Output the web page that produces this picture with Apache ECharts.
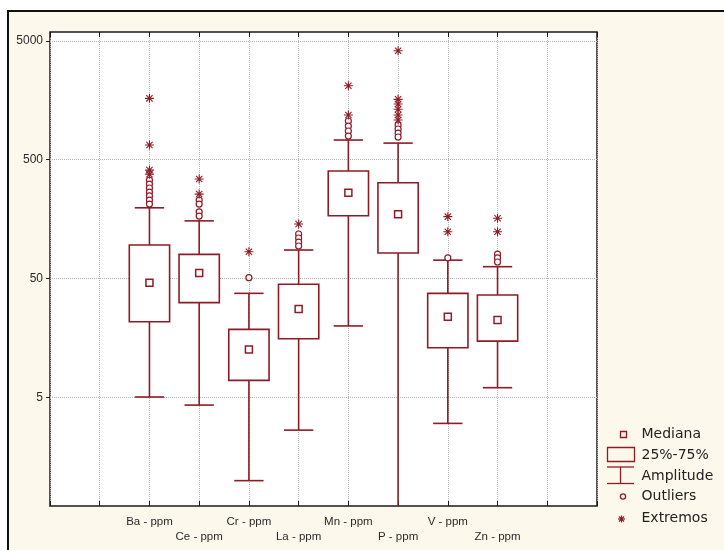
<!DOCTYPE html>
<html>
<head>
<meta charset="utf-8">
<script src="https://cdn.jsdelivr.net/npm/echarts@6/dist/echarts.min.js"></script>
<style>
  html, body { margin: 0; padding: 0; background: #ffffff; }
  #chart { width: 724px; height: 550px; }
</style>
</head>
<body>
<div id="chart"></div>
<script>
// Element concentrations (ppm): whisker range, quartiles and median per element
const elements  = ['Ba - ppm', 'Ce - ppm', 'Cr - ppm', 'La - ppm', 'Mn - ppm', 'P - ppm', 'V - ppm', 'Zn - ppm'];
const minVals    = [5.05, 4.32, 1.0, 2.66, 20.0, 0.4, 3.03, 6.05];
const q1Vals     = [21.7, 31.4, 6.97, 15.6, 169, 82.1, 13.1, 14.9];
const medianVals = [46.2, 55.7, 12.7, 27.7, 264, 174, 23.9, 22.4];
const q3Vals     = [95.9, 80.0, 18.7, 44.8, 402, 320, 37.6, 36.4];
const maxVals    = [197, 153, 37.6, 87.0, 732, 690, 71.5, 63.0];

// Outliers (circles) and extreme values (asterisks), one list per element
const outlierVals = [
  [337, 312, 289, 267, 248, 229, 212],
  [229, 212, 182, 168],
  [50.9],
  [118.7, 109.8, 101.5, 94.0],
  [1058, 960, 872, 791],
  [979, 906, 838, 776],
  [74.6],
  [80.5, 74.6, 69.0]
];
const extremeVals = [
  [1641, 664, 409, 378],
  [344, 257],
  [84.2],
  [144],
  [2094, 1188],
  [4127, 1610, 1470, 1327, 1188, 1079],
  [166, 124],
  [161, 124]
];

// Value axis (logarithmic) tick labels
const yTicks = [5, 50, 500, 5000];
const yMin = 0.612;
const yMax = 5930;

// Legend entries
const legendLabels = ['Mediana', '25%-75%', 'Amplitude', 'Outliers', 'Extremos'];

const RED = '#8e1b26';
const GRID_COLOR = '#b3b3b3';
const CREAM = '#fcf8ec';

// Two empty slots on each side of the element categories
const categories = ['', ' '].concat(elements, ['  ', '   ']);
const slot = i => i + 2;

const boxData = elements.map((_, i) => [slot(i), minVals[i], q1Vals[i], medianVals[i], q3Vals[i], maxVals[i]]);
const medianData = elements.map((_, i) => [slot(i), medianVals[i]]);
const outlierData = [];
outlierVals.forEach((list, i) => list.forEach(v => outlierData.push([slot(i), v])));
const extremeData = [];
extremeVals.forEach((list, i) => list.forEach(v => extremeData.push([slot(i), v])));

const ASTERISK = 'path://M4,0L4,8M0,4L8,4M1.2,1.2L6.8,6.8M6.8,1.2L1.2,6.8';

function renderBox(params, api) {
  const x = api.value(0);
  const cs = params.coordSys;
  const top = cs.y, bottom = cs.y + cs.height;
  const clampY = y => Math.max(top, Math.min(bottom, y));
  const pMin = api.coord([x, api.value(1)]);
  const pQ1 = api.coord([x, api.value(2)]);
  const pQ3 = api.coord([x, api.value(4)]);
  const pMax = api.coord([x, api.value(5)]);
  const band = api.size([1, 0])[0];
  const boxW = band * 0.81;
  const capW = band * 0.59;
  const cx = pQ1[0];
  const line = { stroke: RED, lineWidth: 1.6 };
  const children = [
    { type: 'line', shape: { x1: cx, y1: pQ1[1], x2: cx, y2: clampY(pMin[1]) }, style: line },
    { type: 'line', shape: { x1: cx, y1: pQ3[1], x2: cx, y2: clampY(pMax[1]) }, style: line }
  ];
  if (pMin[1] <= bottom) {
    children.push({ type: 'line', shape: { x1: cx - capW / 2, y1: pMin[1], x2: cx + capW / 2, y2: pMin[1] }, style: line });
  }
  if (pMax[1] >= top) {
    children.push({ type: 'line', shape: { x1: cx - capW / 2, y1: pMax[1], x2: cx + capW / 2, y2: pMax[1] }, style: line });
  }
  children.push({
    type: 'rect',
    shape: { x: cx - boxW / 2, y: pQ3[1], width: boxW, height: pQ1[1] - pQ3[1] },
    style: { stroke: RED, lineWidth: 1.6, fill: '#ffffff' }
  });
  return { type: 'group', children };
}

// Legend drawn as shapes plus text on the right margin
const LX = 641.5;
const legendText = (label, y) => ({
  type: 'text', x: LX, y: y,
  style: { text: label, fill: '#222222', font: '14px "DejaVu Sans", sans-serif', verticalAlign: 'middle', align: 'left' }
});
const seg = (x1, y1, x2, y2, w) => ({
  type: 'line', shape: { x1, y1, x2, y2 }, style: { stroke: RED, lineWidth: w || 1.3 }
});
const legendGraphics = [
  // page panel
  { type: 'rect', shape: { x: 7, y: 10, width: 720, height: 545 }, style: { fill: CREAM }, z: -10 },
  { type: 'line', shape: { x1: 7, y1: 11, x2: 724, y2: 11 }, style: { stroke: '#111111', lineWidth: 2 }, z: -9 },
  { type: 'line', shape: { x1: 8, y1: 10, x2: 8, y2: 550 }, style: { stroke: '#111111', lineWidth: 2 }, z: -9 },
  // Mediana
  { type: 'rect', shape: { x: 620.5, y: 431.5, width: 6, height: 6 }, style: { stroke: RED, lineWidth: 1.3, fill: null } },
  legendText(legendLabels[0], 434.5),
  // 25%-75%
  { type: 'rect', shape: { x: 607.5, y: 447.5, width: 27, height: 14 }, style: { stroke: RED, lineWidth: 1.3, fill: null } },
  legendText(legendLabels[1], 455),
  // Amplitude
  seg(607, 467, 634, 467),
  seg(620.5, 467, 620.5, 483.5),
  seg(607, 483.5, 634, 483.5),
  legendText(legendLabels[2], 476.5),
  // Outliers
  { type: 'circle', shape: { cx: 623, cy: 496.5, r: 2.6 }, style: { stroke: RED, lineWidth: 1.3, fill: null } },
  legendText(legendLabels[3], 496.5),
  // Extremos
  seg(621.5, 515.5, 621.5, 522.5, 1.2),
  seg(618, 519, 625, 519, 1.2),
  seg(619, 516.5, 624, 521.5, 1.2),
  seg(624, 516.5, 619, 521.5, 1.2),
  legendText(legendLabels[4], 518.5)
];

const chart = echarts.init(document.getElementById('chart'), null, { renderer: 'canvas' });
chart.setOption({
  animation: false,
  backgroundColor: '#ffffff',
  grid: {
    left: 50, top: 32, right: 127, bottom: 44,
    show: true, backgroundColor: '#ffffff', borderColor: '#1a1a1a', borderWidth: 1.5
  },
  xAxis: [
    {
      type: 'category', data: categories, boundaryGap: false, position: 'bottom',
      axisLine: { show: false },
      axisTick: { show: true, inside: true, length: 5, interval: 0, lineStyle: { color: '#1a1a1a' } },
      axisLabel: {
        show: true, interval: 0, margin: 8.5, fontSize: 11.5, lineHeight: 15,
        fontFamily: '"Liberation Sans", Arial, sans-serif', color: '#2a2a2a',
        formatter: (v, idx) => ((idx - 2) % 2 === 1 ? '\n' + v : v)
      },
      splitLine: { show: true, interval: 0, lineStyle: { color: GRID_COLOR, type: 'dotted', width: 1 } }
    },
    {
      type: 'category', data: categories, boundaryGap: false, position: 'top',
      axisLine: { show: false },
      axisTick: { show: true, inside: true, length: 5, interval: 0, lineStyle: { color: '#1a1a1a' } },
      axisLabel: { show: false },
      splitLine: { show: false }
    }
  ],
  yAxis: {
    type: 'log', logBase: 10, min: yMin, max: yMax,
    axisLine: { show: false },
    axisTick: { show: true, length: 4, customValues: yTicks, lineStyle: { color: '#1a1a1a' } },
    axisLabel: {
      show: true, margin: 7, fontSize: 12, customValues: yTicks,
      fontFamily: '"Liberation Sans", Arial, sans-serif', color: '#2a2a2a',
      formatter: v => String(Math.round(v))
    },
    splitLine: { show: true, lineStyle: { color: GRID_COLOR, type: 'dotted', width: 1 } },
    minorTick: { show: false }
  },
  graphic: legendGraphics,
  series: [
    { type: 'custom', renderItem: renderBox, data: boxData, encode: { x: 0, y: [1, 2, 3, 4, 5] }, silent: true },
    {
      type: 'scatter', data: medianData, symbol: 'rect', symbolSize: 7, silent: true,
      itemStyle: { color: '#ffffff', borderColor: RED, borderWidth: 1.5, opacity: 1 }
    },
    {
      type: 'scatter', data: outlierData, symbol: 'circle', symbolSize: 6, silent: true,
      itemStyle: { color: '#ffffff', borderColor: RED, borderWidth: 1.2, opacity: 1 }
    },
    {
      type: 'scatter', data: extremeData, symbol: ASTERISK, symbolSize: 9, silent: true,
      itemStyle: { color: 'rgba(0,0,0,0)', borderColor: RED, borderWidth: 1.1, opacity: 1 }
    }
  ]
});
</script>
</body>
</html>
